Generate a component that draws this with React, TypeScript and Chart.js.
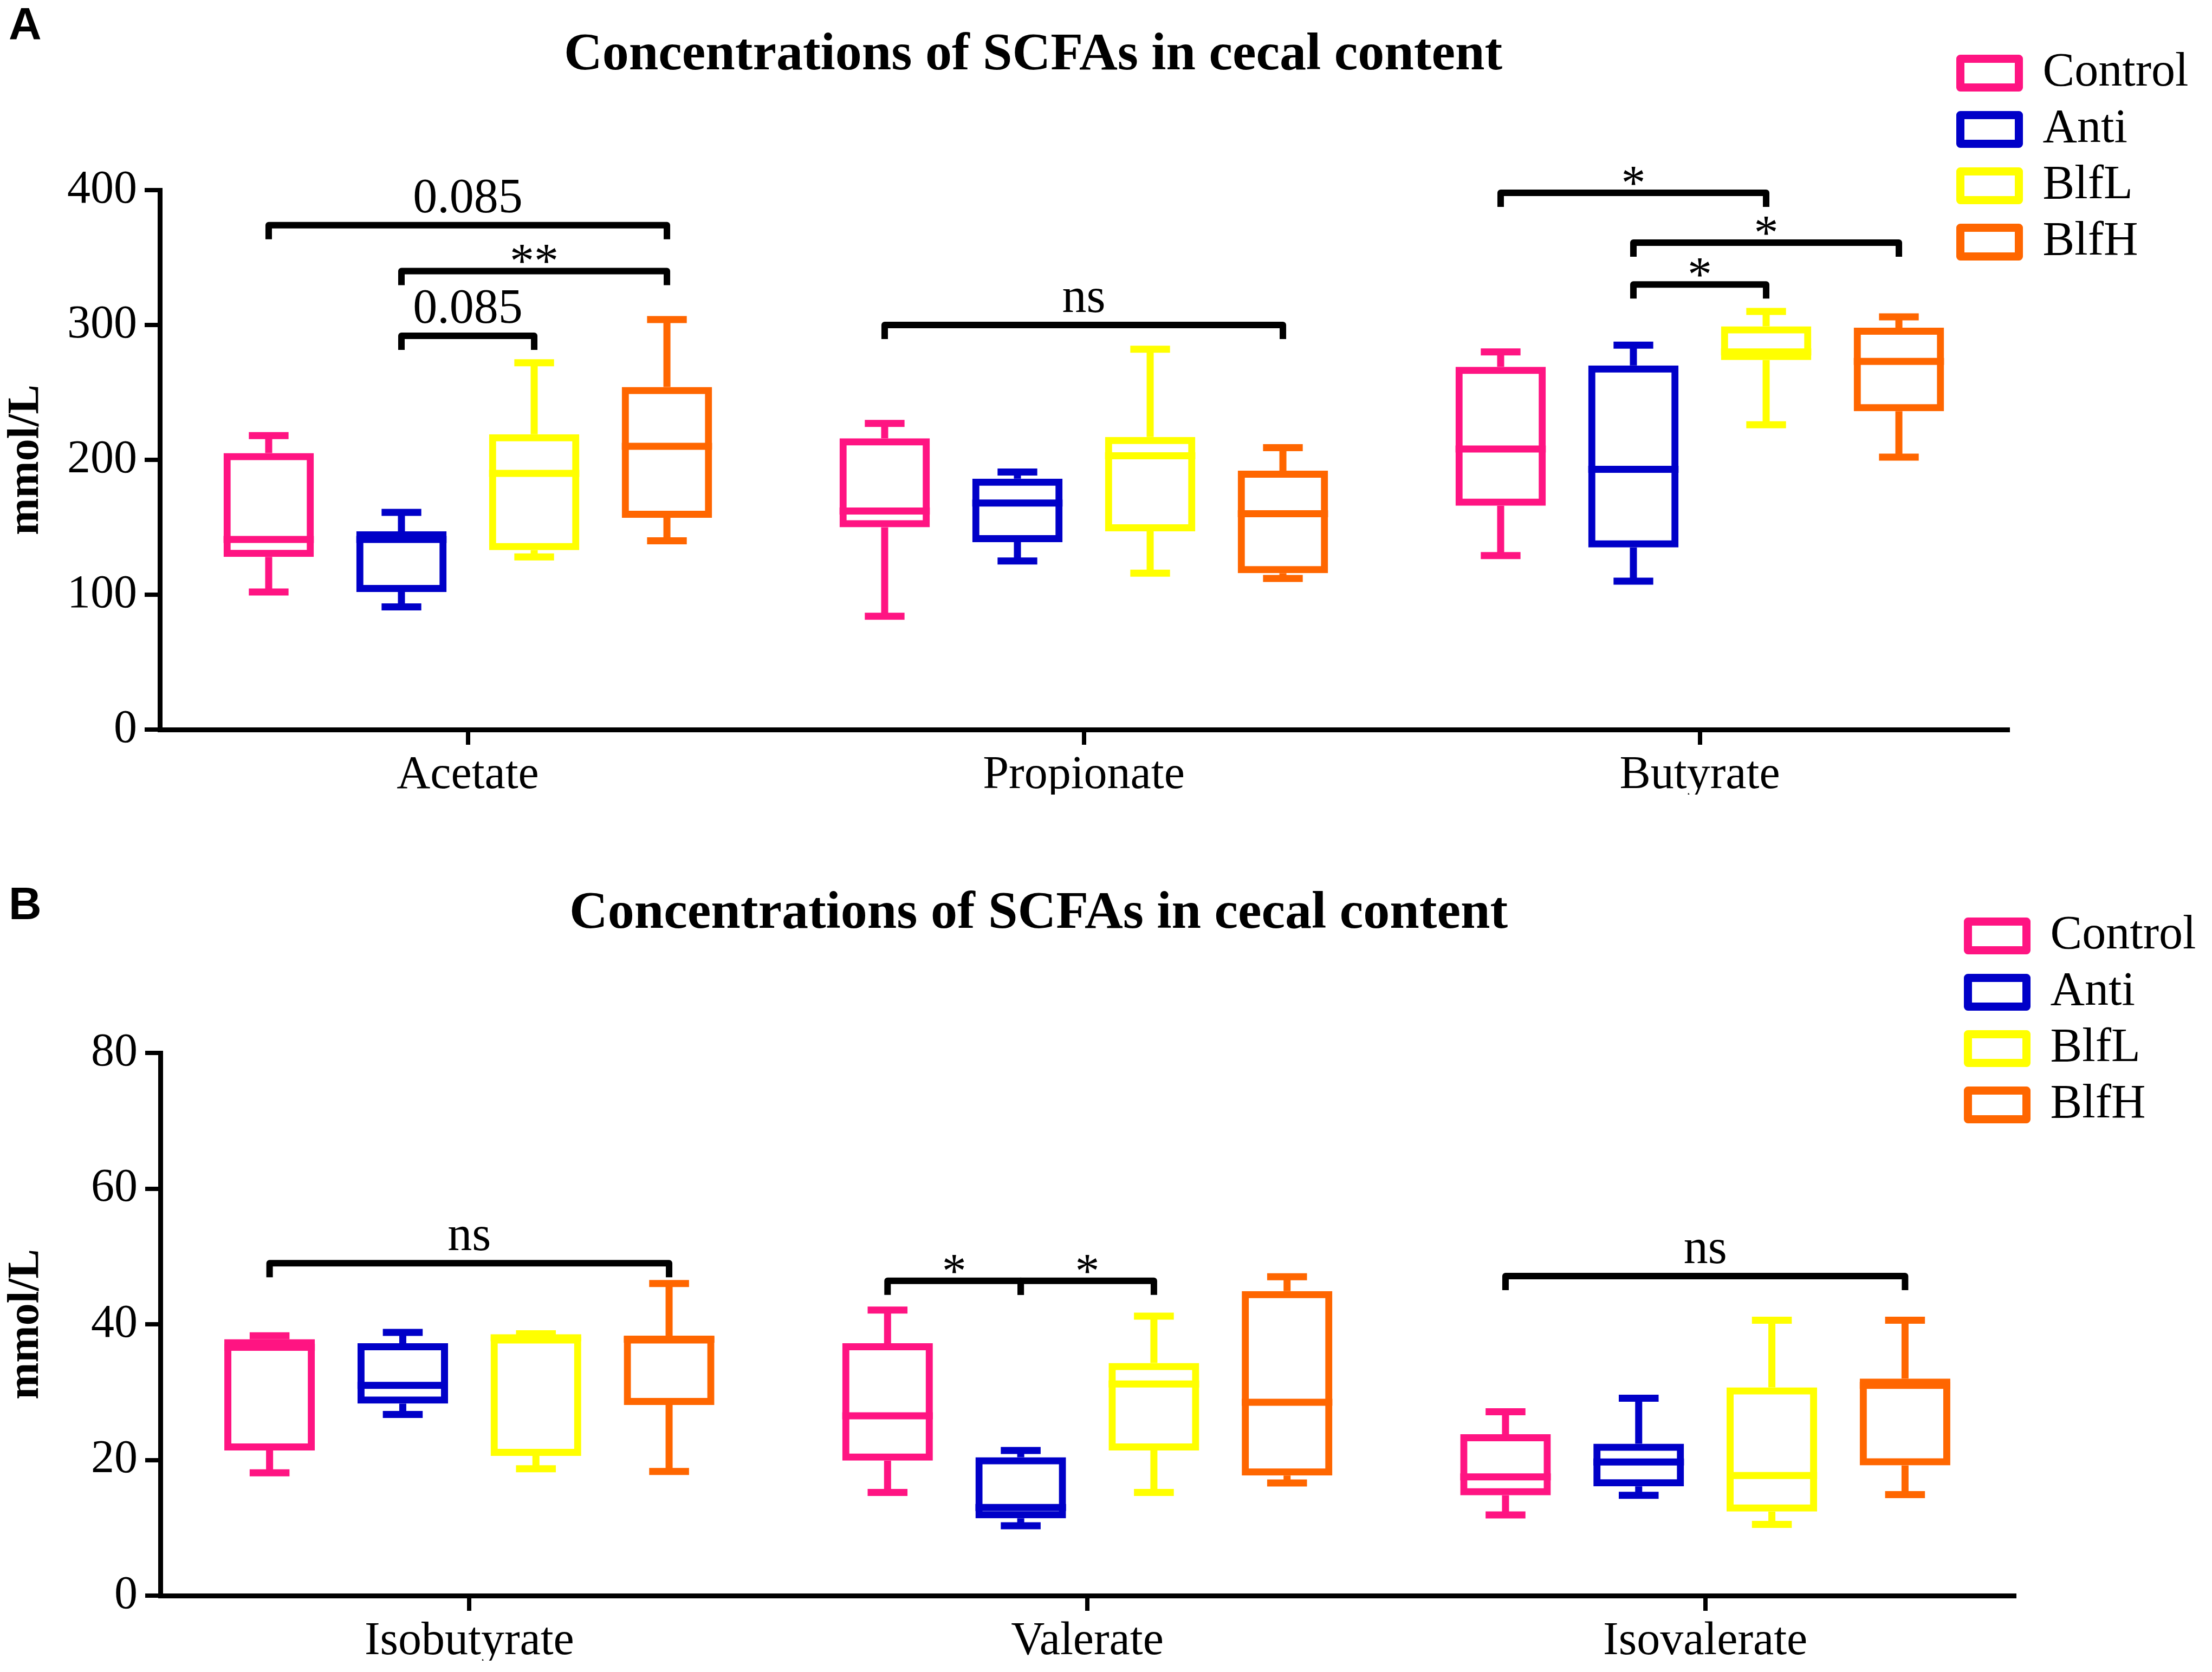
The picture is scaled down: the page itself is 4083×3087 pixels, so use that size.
import React, { useEffect, useRef } from 'react';
import { Chart, registerables } from 'chart.js';

Chart.register(...registerables);

const FONT = '"Liberation Serif", "Times New Roman", serif';

const groupNames = ['Control', 'Anti', 'BlfL', 'BlfH'];
const groupColors = ['#FF1482', '#0000C8', '#FFFF00', '#FF6600'];

// ---------- Panel A ----------
const categoriesA = ['Acetate', 'Propionate', 'Butyrate'];
const yTicksA = [0, 100, 200, 300, 400];
// [min, q1, median, q3, max] per category
const controlA = [[102, 128, 141, 205, 218], [84, 150, 162, 216, 227], [129, 166, 208, 269, 280]];
const antiA = [[91, 102, 141, 147, 161], [125, 139, 168, 186, 191], [110, 135, 193, 270, 285]];
const blfLA = [[128, 133, 190, 219, 272], [116, 147, 203, 217, 282], [226, 274, 280, 299, 310]];
const blfHA = [[140, 157, 210, 254, 304], [112, 116, 160, 192, 209], [202, 236, 273, 298, 306]];
const bracketsA = [
  { cat: 0, from: 0, to: 3, value: 374, label: '0.085' },
  { cat: 0, from: 1, to: 3, value: 340, label: '**' },
  { cat: 0, from: 1, to: 2, value: 292, label: '0.085' },
  { cat: 1, from: 0, to: 3, value: 300, label: 'ns' },
  { cat: 2, from: 0, to: 2, value: 398, label: '*' },
  { cat: 2, from: 1, to: 3, value: 361, label: '*' },
  { cat: 2, from: 1, to: 2, value: 330, label: '*' },
];

// ---------- Panel B ----------
const categoriesB = ['Isobutyrate', 'Valerate', 'Isovalerate'];
const yTicksB = [0, 20, 40, 60, 80];
const controlB = [[18.1, 21.4, 36.6, 37.8, 38.3], [15.2, 19.9, 26.5, 37.2, 42.1], [11.9, 14.8, 17.5, 23.8, 27.1]];
const antiB = [[26.7, 28.3, 31.0, 37.2, 38.8], [10.3, 11.4, 13.0, 20.4, 21.4], [14.8, 16.1, 19.7, 22.4, 29.1]];
const blfLB = [[18.7, 20.6, 38.0, 38.2, 38.6], [15.2, 21.4, 31.2, 34.3, 41.2], [10.5, 12.4, 17.7, 30.7, 40.6]];
const blfHB = [[18.3, 28.1, 37.8, 38.2, 46.0], [16.6, 17.7, 28.5, 44.9, 47.0], [14.9, 19.2, 31.0, 32.0, 40.6]];
const bracketsB = [
  { cat: 0, from: 0, to: 3, value: 49, label: 'ns' },
  { cat: 1, from: 0, to: 1, value: 46.4, label: '*' },
  { cat: 1, from: 1, to: 2, value: 46.4, label: '*' },
  { cat: 2, from: 0, to: 3, value: 47.1, label: 'ns' },
];

const TITLE = 'Concentrations of SCFAs in cecal content';

type Bracket = { cat: number; from: number; to: number; value: number; label: string };
type PanelSpec = {
  letter: string;
  categories: string[];
  yTicks: number[];
  stats: number[][][];
  brackets: Bracket[];
  layout: {
    height: number;
    plotLeft: number;
    plotRight: number;
    plotTop: number;
    plotBottom: number;
    titleCenterX: number;
    titleCenterY: number;
    legendBoxLeft: number;
    legendFirstCenterY: number;
    letterBaseline: number;
  };
};

const panelA: PanelSpec = {
  letter: 'A',
  categories: categoriesA,
  yTicks: yTicksA,
  stats: [controlA, antiA, blfLA, blfHA],
  brackets: bracketsA,
  layout: {
    height: 1543, plotLeft: 295, plotRight: 3706, plotTop: 351, plotBottom: 1347,
    titleCenterX: 1907, titleCenterY: 103, legendBoxLeft: 3611, legendFirstCenterY: 135, letterBaseline: 73,
  },
};

const panelB: PanelSpec = {
  letter: 'B',
  categories: categoriesB,
  yTicks: yTicksB,
  stats: [controlB, antiB, blfLB, blfHB],
  brackets: bracketsB,
  layout: {
    height: 1544, plotLeft: 296, plotRight: 3718, plotTop: 401, plotBottom: 1403,
    titleCenterX: 1917, titleCenterY: 145, legendBoxLeft: 3625, legendFirstCenterY: 185, letterBaseline: 154,
  },
};

const W = 4083;

function makeChart(canvas: HTMLCanvasElement, p: PanelSpec) {
  const L = p.layout;
  const titleSize = 98;
  const rightPad = W - 2 * L.titleCenterX;
  const legendWidth = W - rightPad - L.plotRight;
  const xAxisHeight = 120;
  const boxBorder = 13;
  const legendFont = 88;
  const legendBoxW = 108;
  const legendBoxH = 53;
  const legendPad = 16;
  const legendStroke = 15;
  const tickFont = 86;
  const titlePadTop = L.titleCenterY - 0.6 * titleSize;
  const titlePadBottom = L.plotTop - titlePadTop - 1.2 * titleSize;

  const datasets = groupNames.map((name, gi) => ({
    label: name,
    data: p.stats[gi].map((s) => [s[1], s[3]]),
    backgroundColor: 'rgba(255,255,255,0)',
    borderColor: groupColors[gi],
    borderWidth: boxBorder,
    borderSkipped: false,
    categoryPercentage: 0.862,
    barPercentage: 0.68,
  }));

  const boxPlugin = {
    id: 'boxWhiskers',
    afterDatasetsDraw(chart: any) {
      const ctx = chart.ctx;
      const ys = chart.scales.y;
      p.stats.forEach((groupStats, gi) => {
        const meta = chart.getDatasetMeta(gi);
        groupStats.forEach((s, ci) => {
          const bar = meta.data[ci];
          if (!bar) return;
          const x = bar.x;
          const w = bar.width;
          const [mn, q1, md, q3, mx] = s.map((v) => ys.getPixelForValue(v));
          const cap = w * 0.22;
          ctx.save();
          ctx.strokeStyle = groupColors[gi];
          ctx.lineWidth = boxBorder;
          ctx.lineCap = 'butt';
          ctx.beginPath();
          ctx.moveTo(x, q3);
          ctx.lineTo(x, mx);
          ctx.moveTo(x - cap, mx);
          ctx.lineTo(x + cap, mx);
          ctx.moveTo(x, q1);
          ctx.lineTo(x, mn);
          ctx.moveTo(x - cap, mn);
          ctx.lineTo(x + cap, mn);
          ctx.moveTo(x - w / 2, md);
          ctx.lineTo(x + w / 2, md);
          ctx.stroke();
          ctx.restore();
        });
      });
    },
  };

  const bracketPlugin = {
    id: 'brackets',
    afterDraw(chart: any) {
      const ctx = chart.ctx;
      const ys = chart.scales.y;
      const labelSize = 90;
      ctx.save();
      ctx.strokeStyle = '#000';
      ctx.fillStyle = '#000';
      ctx.lineWidth = 12;
      ctx.lineJoin = 'round';
      ctx.lineCap = 'butt';
      ctx.textAlign = 'center';
      ctx.textBaseline = 'alphabetic';
      ctx.font = `${labelSize}px ${FONT}`;
      p.brackets.forEach((b) => {
        const x1 = chart.getDatasetMeta(b.from).data[b.cat].x;
        const x2 = chart.getDatasetMeta(b.to).data[b.cat].x;
        const y = ys.getPixelForValue(b.value);
        const leg = 26;
        ctx.beginPath();
        ctx.moveTo(x1, y + leg);
        ctx.lineTo(x1, y);
        ctx.lineTo(x2, y);
        ctx.lineTo(x2, y + leg);
        ctx.stroke();
        const isStar = /^\*+$/.test(b.label);
        const ty = isStar ? y - 33 + 0.5 * labelSize : y - 24;
        ctx.fillText(b.label, (x1 + x2) / 2, ty);
      });
      ctx.font = `bold 84px "Liberation Sans", Arial, sans-serif`;
      ctx.textAlign = 'left';
      ctx.fillText(p.letter, 16, L.letterBaseline);
      ctx.restore();
    },
  };

  const legendPlace = {
    id: 'legendPlace',
    afterLayout(chart: any) {
      const lg = chart.legend;
      if (!lg) return;
      const left = L.legendBoxLeft + legendStroke / 2 - legendPad;
      const top = L.legendFirstCenterY - legendFont / 2 - legendPad;
      const h = lg.height;
      lg.left = left;
      lg.right = W;
      lg.width = W - left;
      lg.top = top;
      lg.bottom = top + h;
    },
  };

  const axisGrid = { drawOnChartArea: false, color: '#000', lineWidth: 8, tickLength: 28 };
  const axisBorder = { color: '#000', width: 9 };

  return new Chart(canvas, {
    type: 'bar',
    data: { labels: p.categories, datasets: datasets as any },
    plugins: [boxPlugin, bracketPlugin, legendPlace],
    options: {
      responsive: false,
      animation: false,
      devicePixelRatio: 1,
      layout: { padding: { left: 0, right: rightPad, top: 0, bottom: L.height - L.plotBottom - xAxisHeight } },
      plugins: {
        title: {
          display: true,
          text: TITLE,
          color: '#000',
          font: { family: FONT, size: titleSize, weight: 'bold', lineHeight: 1.2 },
          padding: { top: titlePadTop, bottom: titlePadBottom },
        },
        legend: {
          display: true,
          position: 'right',
          align: 'start',
          maxWidth: legendWidth,
          labels: {
            color: '#000',
            font: { family: FONT, size: legendFont },
            boxWidth: legendBoxW,
            boxHeight: legendBoxH,
            padding: legendPad,
            generateLabels: (chart: any) =>
              (Chart.defaults.plugins.legend.labels.generateLabels as any)(chart).map((l: any) => ({
                ...l,
                lineWidth: legendStroke,
                lineJoin: 'round',
                fillStyle: 'rgba(255,255,255,0)',
              })),
          },
        },
        tooltip: { enabled: false },
      },
      scales: {
        x: {
          type: 'category',
          offset: true,
          grid: { ...axisGrid, offset: false },
          border: axisBorder,
          ticks: { color: '#000', font: { family: FONT, size: tickFont }, padding: 6, maxRotation: 0, autoSkip: false },
          afterFit: (s: any) => {
            s.height = xAxisHeight;
          },
        },
        y: {
          type: 'linear',
          min: p.yTicks[0],
          max: p.yTicks[p.yTicks.length - 1],
          ticks: {
            stepSize: p.yTicks[1] - p.yTicks[0],
            color: '#000',
            font: { family: FONT, size: tickFont },
            padding: 14,
          },
          grid: axisGrid,
          border: axisBorder,
          title: {
            display: true,
            text: 'mmol/L',
            color: '#000',
            font: { family: FONT, size: 82, weight: 'bold', lineHeight: 1.2 },
            padding: 0,
          },
          afterFit: (s: any) => {
            s.width = L.plotLeft;
          },
        },
      },
    } as any,
  });
}

function Panel({ spec, top }: { spec: PanelSpec; top: number }) {
  const ref = useRef<HTMLCanvasElement>(null);
  useEffect(() => {
    if (!ref.current) return;
    const chart = makeChart(ref.current, spec);
    return () => chart.destroy();
  }, [spec]);
  return (
    <canvas
      ref={ref}
      width={W}
      height={spec.layout.height}
      style={{ position: 'absolute', left: 0, top, width: W, height: spec.layout.height, display: 'block' }}
    />
  );
}

export default function App() {
  return (
    <div style={{ position: 'absolute', left: 0, top: 0, width: W, height: 3087, background: '#fff', overflow: 'hidden' }}>
      <Panel spec={panelA} top={0} />
      <Panel spec={panelB} top={1543} />
    </div>
  );
}
